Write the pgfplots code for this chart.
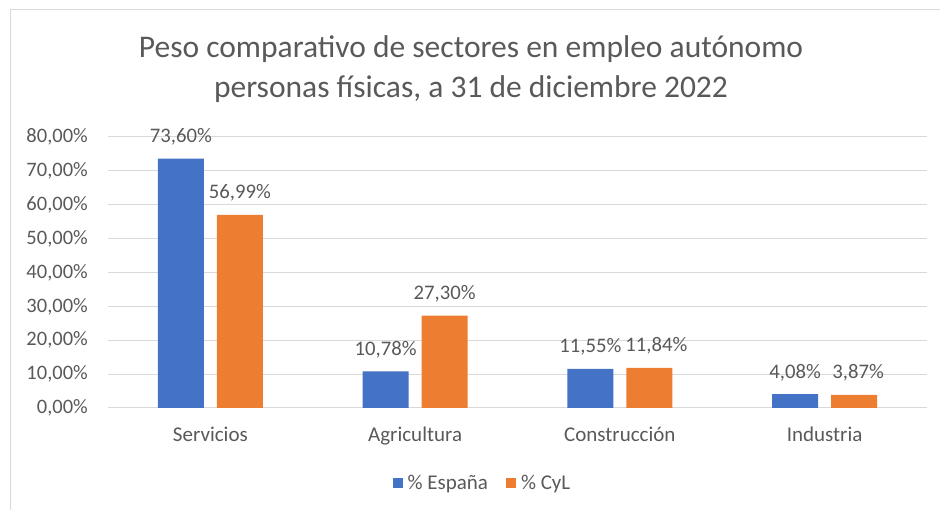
\documentclass[border=0pt]{standalone}
\usepackage{pgfplots}
\pgfplotsset{compat=1.18}
\usepackage{fontspec}
\setmainfont{Carlito}
\definecolor{cblue}{RGB}{68,114,196}
\definecolor{corange}{RGB}{237,125,49}
\definecolor{tgray}{RGB}{89,89,89}
\definecolor{ggray}{RGB}{217,217,217}
\begin{document}
\begin{tikzpicture}[x=1pt,y=1pt]
\useasboundingbox (0,0) rectangle (940,510);
\draw[ggray, line width=1pt] (10,0) -- (10,500) -- (940,500);
\node[anchor=base, text=tgray, font=\fontsize{31.5}{37}\selectfont] at (471,452) {Peso comparativo de sectores en empleo autónomo};
\node[anchor=base, text=tgray, font=\fontsize{31.5}{37}\selectfont] at (471,412) {personas físicas, a 31 de diciembre 2022};
\begin{axis}[
  at={(108pt,102pt)}, anchor=south west,
  scale only axis, width=819pt, height=271pt,
  xmin=-0.5, xmax=3.5, ymin=0, ymax=80,
  enlargelimits=false,
  axis line style={draw=none},
  major tick length=0pt,
  ymajorgrids, grid style={ggray, line width=1pt},
  ytick={0,10,...,80},
  /pgf/number format/assume math mode=true,
  yticklabel={\pgfmathprintnumber[fixed,fixed zerofill,precision=2,use comma]{\tick}\%},
  yticklabel style={font=\fontsize{20.5}{24}\selectfont, text=tgray, inner sep=0pt, xshift=-20pt},
  xtick={0,1,2,3},
  xticklabels={Servicios,Agricultura,Construcción,Industria},
  xticklabel style={font=\fontsize{21}{25}\selectfont, text=tgray, inner sep=0pt, anchor=base, yshift=-34pt},
  ybar=13pt, bar width=46pt,
  point meta=y,
  nodes near coords={\pgfmathprintnumber[fixed,fixed zerofill,precision=2,use comma]{\pgfplotspointmeta}\%},
  every node near coord/.append style={font=\fontsize{20.7}{24}\selectfont, text=tgray, anchor=base, inner sep=0pt, yshift=16pt},
  legend columns=2,
  legend image code/.code={\fill[#1] (0pt,-5pt) rectangle (10pt,5pt);},
  legend style={draw=none, fill=none, font=\fontsize{21}{25}\selectfont, text=tgray,
    at={(rel axis cs:0.456,-0.2768)}, anchor=center,
    inner xsep=0pt, inner ysep=0pt,
    nodes={inner sep=0pt},
    /tikz/every odd column/.append style={column sep=5pt},
    /tikz/every even column/.append style={column sep=18pt}},
]
\addplot[fill=cblue, draw=none] coordinates {(0,73.60) (1,10.78) (2,11.55) (3,4.08)};
\addplot[fill=corange, draw=none,
  visualization depends on={ifthenelse(x==2,7,ifthenelse(x==3,4,0)) \as \lshift},
  every node near coord/.append style={xshift=\lshift pt}]
  coordinates {(0,56.99) (1,27.30) (2,11.84) (3,3.87)};
\legend{\% España,\% CyL}
\end{axis}
\end{tikzpicture}
\end{document}
